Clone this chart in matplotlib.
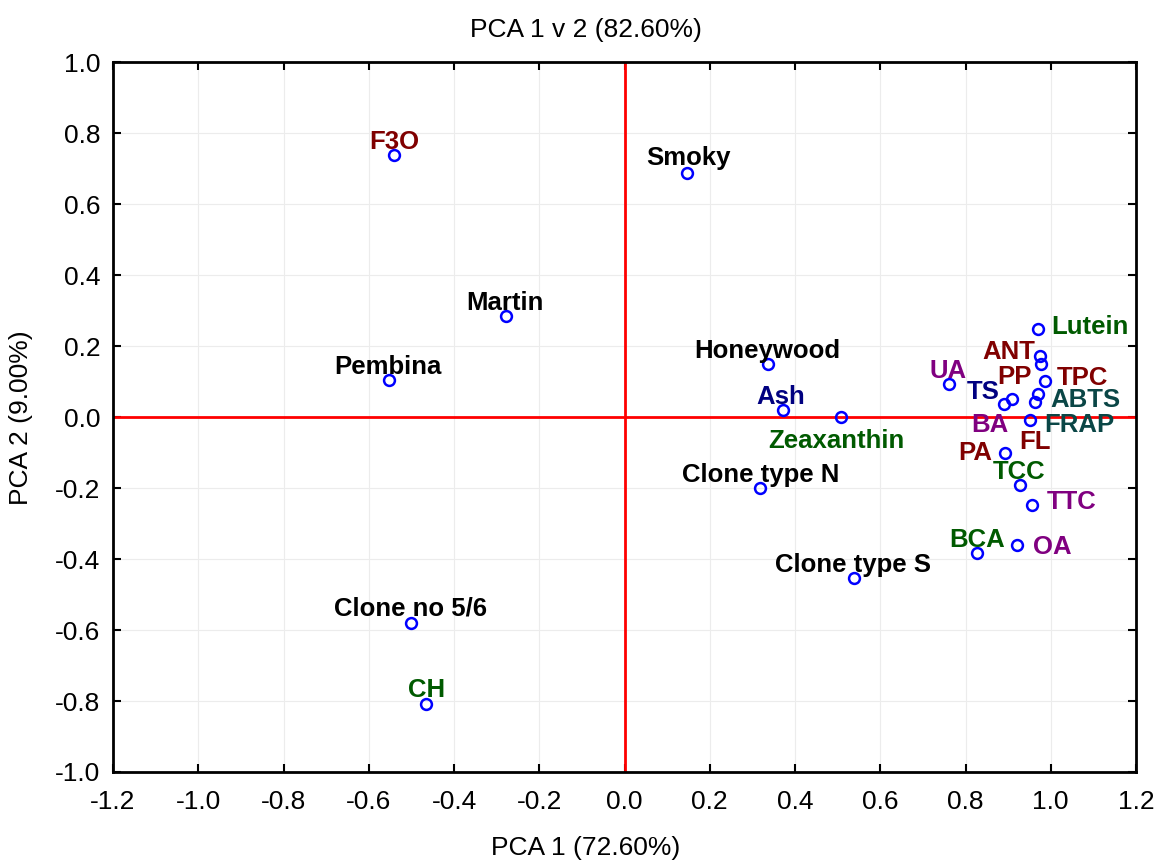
import matplotlib.pyplot as plt
from matplotlib.ticker import MultipleLocator

plt.rcParams['font.family'] = ['Liberation Sans', 'DejaVu Sans']

# cultivars / samples
samples = ['F3O', 'Smoky', 'Martin', 'Pembina', 'Honeywood', 'Ash', 'Zeaxanthin',
           'Clone type N', 'Clone type S', 'Clone no 5/6', 'CH']
samples_x = [-0.540, 0.146, -0.279, -0.552, 0.336, 0.371, 0.507, 0.317, 0.538, -0.502, -0.465]
samples_y = [0.738, 0.687, 0.285, 0.104, 0.149, 0.020, 0.000, -0.200, -0.454, -0.580, -0.808]
samples_col = ['#800000', 'black', 'black', 'black', 'black', '#000080', '#005a00',
               'black', 'black', 'black', '#005a00']

# variables on the right side
vars_ = ['Lutein', 'ANT', 'PP', 'TPC', 'ABTS', 'FRAP', 'TS', 'BA', 'UA', 'FL',
         'PA', 'TCC', 'TTC', 'OA', 'BCA']
vars_x = [0.969, 0.974, 0.976, 0.987, 0.969, 0.962, 0.890, 0.910, 0.762, 0.951,
          0.892, 0.928, 0.957, 0.921, 0.826]
vars_y = [0.248, 0.172, 0.149, 0.101, 0.064, 0.042, 0.036, 0.050, 0.092, -0.007,
          -0.100, -0.192, -0.247, -0.361, -0.383]
vars_col = ['#005a00', '#800000', '#800000', '#800000', '#0a4646', '#0a4646', '#000080',
            '#800080', '#800080', '#800000', '#800000', '#005a00', '#800080', '#800080',
            '#005a00']

# label offsets in pixels (dx, dy)
samples_off = [(0, 13), (2, 15), (-1, 13), (-1, 13), (0, 13), (-2, 13), (-4, -24),
               (1, 13), (-1, 13), (0, 14), (0, 14)]
vars_off = [(52, 2), (-31, 4), (-26, -13), (37, 3), (48, -6), (45, -23), (-21, 12),
            (-23, -26), (-1, 13), (5, -22), (-29, 0), (-1, 13), (39, 3), (35, -2), (1, 13)]

fig = plt.figure(figsize=(11.58, 8.64), dpi=100)
ax = fig.add_axes([0.0976, 0.1065, 0.8834, 0.8215])

ax.set_xlim(-1.2, 1.2)
ax.set_ylim(-1.0, 1.0)
ax.xaxis.set_major_locator(MultipleLocator(0.2))
ax.yaxis.set_major_locator(MultipleLocator(0.2))
ax.grid(True, color='#ececec', linewidth=0.8)
ax.set_axisbelow(True)
ax.axhline(0, color='red', linewidth=2, zorder=1)
ax.axvline(0, color='red', linewidth=2, zorder=1)

names = samples + vars_
xs = samples_x + vars_x
ys = samples_y + vars_y
cols = samples_col + vars_col
offs = samples_off + vars_off

ax.plot(xs, ys, 'o', mfc='none', mec='blue', ms=7.8, mew=1.8, zorder=3)
for n, x, y, c, o in zip(names, xs, ys, cols, offs):
    ax.annotate(n, (x, y), xytext=o, textcoords='offset pixels', ha='center', va='center',
                fontsize=18.5, fontweight='bold', color=c, zorder=4)

ax.xaxis.set_major_formatter(plt.FormatStrFormatter('%.1f'))
ax.yaxis.set_major_formatter(plt.FormatStrFormatter('%.1f'))
ax.tick_params(direction='in', length=6, width=1.5, top=True, right=True, labelsize=19)
ax.tick_params(axis='x', pad=13)
ax.tick_params(axis='y', pad=9)
for s in ax.spines.values():
    s.set_linewidth(2)

fig.text(0.506, 0.965, 'PCA 1 v 2 (82.60%)', ha='center', va='center', fontsize=19)
fig.text(0.506, 0.0185, 'PCA 1 (72.60%)', ha='center', va='center', fontsize=19)
fig.text(0.018, 0.517, 'PCA 2 (9.00%)', ha='center', va='center', rotation=90, fontsize=19)

fig.savefig('out.png', dpi=100)
